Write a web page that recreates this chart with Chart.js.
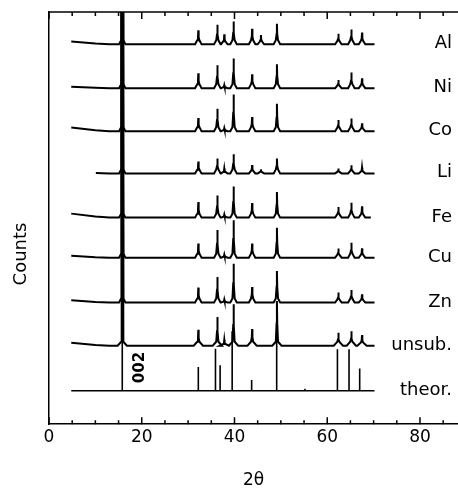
<!DOCTYPE html>
<html><head><meta charset="utf-8">
<script src="https://cdn.jsdelivr.net/npm/chart.js@4/dist/chart.umd.min.js"></script>
<style>html,body{margin:0;padding:0;background:#fff;overflow:hidden}#wrap{width:458px;height:496px}</style>
</head><body><div id="wrap"><canvas id="c" width="458" height="496"></canvas></div>
<script>
// ---- data ----
const seriesNames = ['Al', 'Ni', 'Co', 'Li', 'Fe', 'Cu', 'Zn', 'unsub.', 'theor.'];
// stacked offsets (baseline) of each pattern and its raised low-angle start
const baseLevel  = [382.5, 338.3, 295, 252.5, 208, 167.7, 122.5, 79, 33.7];
const startLevel = [385.3, 339.7, 298.7, 253, 212, 169.7, 124.7, 82, 33.7];
const startAngle = [4.8, 4.8, 4.8, 10.1, 4.8, 4.8, 4.8, 4.8, 4.8];
const endAngle   = [70.2, 70.2, 70.2, 70.2, 69.4, 70.2, 70.2, 70.2, 70.2];
// measured reflections (2θ) and their heights
const peakPos = [15.8, 32.2, 36.3, 37.8, 39.8, 43.8, 45.7, 49.15, 62.4, 65.2, 67.5];
const hAl    = [400, 14, 19.7, 10, 23, 15.7, 9.3, 20.7, 10.7, 15, 11.7];
const hNi    = [400, 15, 23, 3, 30, 14, 0, 24, 8.3, 15.7, 10];
const hCo    = [400, 13.3, 22.7, 3, 37, 14.3, 0, 27.7, 11.3, 12.7, 8];
const hLi    = [400, 12, 15, 5, 19.3, 8.3, 4, 15, 5, 8.3, 6];
const hFe    = [400, 15.7, 22.3, 3, 31.3, 14.7, 0, 25.7, 10.7, 15, 11.3];
const hCu    = [400, 14.3, 27.7, 3, 37.7, 14.3, 0, 30, 9.3, 15, 9.3];
const hZn    = [400, 15, 25.7, 3, 39, 15.7, 0, 31.7, 10, 12.7, 8.3];
const hUnsub = [400, 16, 29, 6, 41.7, 16.7, 0, 45, 13, 14.7, 10.7];
// theoretical stick pattern
const theorPos = [15.8, 32.2, 35.9, 36.9, 39.5, 43.7, 49.1, 55.2, 62.2, 64.7, 67.0];
const theorH   = [400, 24, 42.3, 25.7, 60, 10.7, 55, 2, 41.7, 41.7, 22.3];
const xTickLabels = [0, 20, 40, 60, 80];

// ---- build datasets ----
const heights = [hAl, hNi, hCo, hLi, hFe, hCu, hZn, hUnsub];
const peakWidth = [0.7, 0.7, 0.7, 0.7, 0.7, 0.7, 0.7, 1.0, 0];

function buildPattern(i, pos, h) {
  const b = baseLevel[i], w = peakWidth[i];
  const pts = [{x: startAngle[i], y: startLevel[i]}];
  if (startAngle[i] < 10) pts.push({x: 10, y: b + (startLevel[i] - b) * 0.25});
  if (startAngle[i] < 13) pts.push({x: 13, y: b});
  pos.forEach((p, k) => {
    if (p <= startAngle[i] || p >= endAngle[i]) return;
    const hk = h[k];
    if (w > 0) {
      const foot = Math.min(0.3 * hk, 4);
      const mid = hk > 100 ? 0.13 : 0.07;
      pts.push({x: p - w, y: b}, {x: p - 0.24, y: b + foot}, {x: p - mid, y: b + 0.5 * hk},
               {x: p, y: b + hk},
               {x: p + mid, y: b + 0.5 * hk}, {x: p + 0.24, y: b + foot}, {x: p + w, y: b});
    } else {
      pts.push({x: p, y: b}, {x: p, y: b + hk}, {x: p, y: b});
    }
  });
  pts.push({x: endAngle[i], y: b});
  return pts;
}

const datasets = seriesNames.map((name, i) => ({
  label: name,
  data: i < 8 ? buildPattern(i, peakPos, heights[i]) : buildPattern(i, theorPos, theorH),
  showLine: true,
  borderColor: '#000',
  borderWidth: i < 8 ? 2 : 1.6,
  pointRadius: 0,
  tension: 0,
  fill: false
}));

const FONT = '"DejaVu Sans", "Liberation Sans", Arial, sans-serif';

const decor = {
  id: 'decor',
  afterDraw(chart) {
    const {ctx, chartArea: a, scales: {x, y}} = chart;
    ctx.save();
    ctx.strokeStyle = '#000';
    ctx.lineWidth = 1.5;
    ctx.beginPath();
    ctx.moveTo(a.left, a.top); ctx.lineTo(a.right + 2, a.top);
    ctx.stroke();
    x.ticks.forEach(t => {
      if (t.value % 5 !== 0) return;
      const px = x.getPixelForValue(t.value);
      const len = t.value % 20 === 0 ? 7 : 4;
      ctx.beginPath();
      ctx.moveTo(px, a.bottom); ctx.lineTo(px, a.bottom - len);
      ctx.moveTo(px, a.top); ctx.lineTo(px, a.top + len);
      ctx.stroke();
    });
    // series labels
    ctx.fillStyle = '#000';
    ctx.font = '18px ' + FONT;
    ctx.textAlign = 'right';
    ctx.textBaseline = 'alphabetic';
    seriesNames.forEach((n, i) => {
      const py = y.getPixelForValue(baseLevel[i]) - 2.5 + 6.5;
      ctx.fillText(n, 452, py);
    });
    // 002 reflection label
    ctx.save();
    ctx.translate(x.getPixelForValue(19.7), y.getPixelForValue(57));
    ctx.rotate(-Math.PI / 2);
    ctx.font = 'bold 15px ' + FONT;
    ctx.textAlign = 'center';
    ctx.textBaseline = 'middle';
    ctx.fillText('002', 0, 0);
    ctx.restore();
    // y axis title
    ctx.save();
    ctx.translate(21.5, (a.top + chart.height) / 2);
    ctx.rotate(-Math.PI / 2);
    ctx.font = '18px ' + FONT;
    ctx.textAlign = 'center';
    ctx.textBaseline = 'middle';
    ctx.fillText('Counts', 0, 0);
    ctx.restore();
    ctx.restore();
  }
};

new Chart(document.getElementById('c'), {
  type: 'scatter',
  data: {datasets},
  options: {
    responsive: false,
    animation: false,
    layout: {padding: {left: 49, top: 12, right: 0, bottom: 5}},
    plugins: {legend: {display: false}, tooltip: {enabled: false}},
    scales: {
      x: {
        type: 'linear', min: 0, max: 88.2,
        grid: {display: false, drawTicks: false},
        border: {display: true, color: '#000', width: 1.5},
        ticks: {
          stepSize: 5, autoSkip: false, maxRotation: 0, includeBounds: false,
          padding: 3, color: '#000', font: {family: FONT, size: 17},
          callback: v => xTickLabels.includes(v) ? String(v) : ''
        },
        title: {display: true, text: '2θ', color: '#000', font: {family: FONT, size: 17}, padding: {top: 20, bottom: 0}}
      },
      y: {
        type: 'linear', min: 0, max: 415,
        grid: {display: false, drawTicks: false},
        border: {display: true, color: '#000', width: 1.5},
        ticks: {display: false}
      }
    }
  },
  plugins: [decor]
});
</script></body></html>
